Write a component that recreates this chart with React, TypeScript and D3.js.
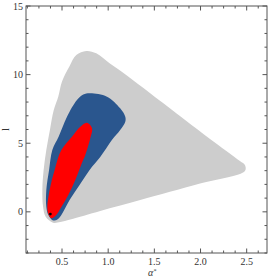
import React from 'react';
import * as d3 from 'd3';

// confidence region outlines (alpha*, l)
const outerRegion: [number, number][] = [
  [0.763, 11.72], [0.871, 11.55], [1.015, 10.82], [1.195, 9.97], [1.455, 8.64],
  [1.833, 6.69], [2.103, 5.31], [2.427, 3.70], [2.481, 3.41], [2.481, 2.97],
  [1.995, 2.06], [1.347, 0.86], [0.914, 0.06], [0.590, -0.56], [0.482, -0.74],
  [0.403, -0.79], [0.323, -0.36], [0.295, 0.37], [0.287, 1.59], [0.301, 3.05],
  [0.330, 4.50], [0.370, 6.0], [0.410, 7.4], [0.460, 8.4], [0.500, 9.5],
  [0.580, 10.6], [0.655, 11.43]
];

const middleRegion: [number, number][] = [
  [0.806, 8.64], [0.987, 8.39], [1.130, 7.54], [1.185, 6.93], [1.185, 6.57],
  [1.130, 5.96], [1.040, 5.23], [0.914, 3.99], [0.799, 3.05], [0.690, 1.95],
  [0.582, 0.86], [0.493, -0.23], [0.449, -0.56], [0.403, -0.63], [0.352, -0.23],
  [0.330, 0.37], [0.330, 1.59], [0.360, 3.05], [0.395, 4.50], [0.463, 5.47],
  [0.554, 6.93], [0.662, 8.15], [0.730, 8.55]
];

const innerRegion: [number, number][] = [
  [0.770, 6.49], [0.825, 6.09], [0.806, 5.36], [0.752, 4.14], [0.720, 3.63],
  [0.644, 2.32], [0.568, 1.22], [0.493, 0.35], [0.433, -0.27], [0.385, -0.47],
  [0.352, -0.16], [0.341, 0.37], [0.366, 1.59], [0.420, 3.05], [0.493, 4.50],
  [0.608, 5.47], [0.698, 6.20]
];

const bestFit: [number, number] = [0.374, -0.16];

const xTicks = [0.5, 1.0, 1.5, 2.0, 2.5];
const yTicks = [0, 5, 10, 15];

const width = 273;
const height = 280;

export default function App() {
  const x = d3.scaleLinear().domain([0.11, 2.72]).range([26, 267]);
  const y = d3.scaleLinear().domain([-3, 15]).range([253, 6]);

  const line = d3.line<[number, number]>()
    .x(d => x(d[0]))
    .y(d => y(d[1]))
    .curve(d3.curveCatmullRomClosed.alpha(0.5));

  const [x0, x1] = x.range();
  const [yb, yt] = y.range();

  const xMinor = d3.range(0, 2.8001, 0.125).filter(v => v > 0.11 && v < 2.72);
  const yMinor = d3.range(-3, 15.001, 1);

  const tickColor = '#555';
  const textStyle = { fontFamily: '"Liberation Serif", "DejaVu Serif", serif' };

  return (
    <svg width={width} height={height} style={{ position: 'absolute', left: 0, top: 0 }}>
      <rect x={0} y={0} width={width} height={height} fill="#fff" />
      <path d={line(outerRegion) || ''} fill="#cdcdcd" />
      <path d={line(middleRegion) || ''} fill="#2a568e" />
      <path d={line(innerRegion) || ''} fill="#ff0000" />
      <circle cx={x(bestFit[0])} cy={y(bestFit[1])} r={1.4} fill="#000" />

      <rect x={x0} y={yt} width={x1 - x0} height={yb - yt} fill="none" stroke={tickColor} strokeWidth={1} />

      {xMinor.map(v => {
        const major = xTicks.some(t => Math.abs(t - v) < 1e-6);
        const len = major ? 4.5 : 2.5;
        return (
          <g key={'xm' + v}>
            <line x1={x(v)} x2={x(v)} y1={yb} y2={yb - len} stroke={tickColor} />
            <line x1={x(v)} x2={x(v)} y1={yt} y2={yt + len} stroke={tickColor} />
          </g>
        );
      })}
      {yMinor.map(v => {
        const major = yTicks.includes(v);
        const len = major ? 4.5 : 2.5;
        return (
          <g key={'ym' + v}>
            <line x1={x0} x2={x0 + len} y1={y(v)} y2={y(v)} stroke={tickColor} />
            <line x1={x1} x2={x1 - len} y1={y(v)} y2={y(v)} stroke={tickColor} />
          </g>
        );
      })}

      {xTicks.map(v => (
        <text key={'xl' + v} x={x(v)} y={265} textAnchor="middle" style={textStyle} fontSize={10} fill="#333">
          {d3.format('.1f')(v)}
        </text>
      ))}
      {yTicks.map(v => (
        <text key={'yl' + v} x={23} y={y(v)} dy="0.35em" textAnchor="end" style={textStyle} fontSize={10} fill="#333">
          {v}
        </text>
      ))}

      <text x={152} y={276} textAnchor="middle" style={textStyle} fontSize={10} fontStyle="italic" fill="#333">
        α<tspan dy={-3} fontSize={6}>*</tspan>
      </text>
      <text transform="translate(9,129.5) rotate(-90)" textAnchor="middle" style={textStyle} fontSize={11} fill="#333">
        l
      </text>
    </svg>
  );
}
